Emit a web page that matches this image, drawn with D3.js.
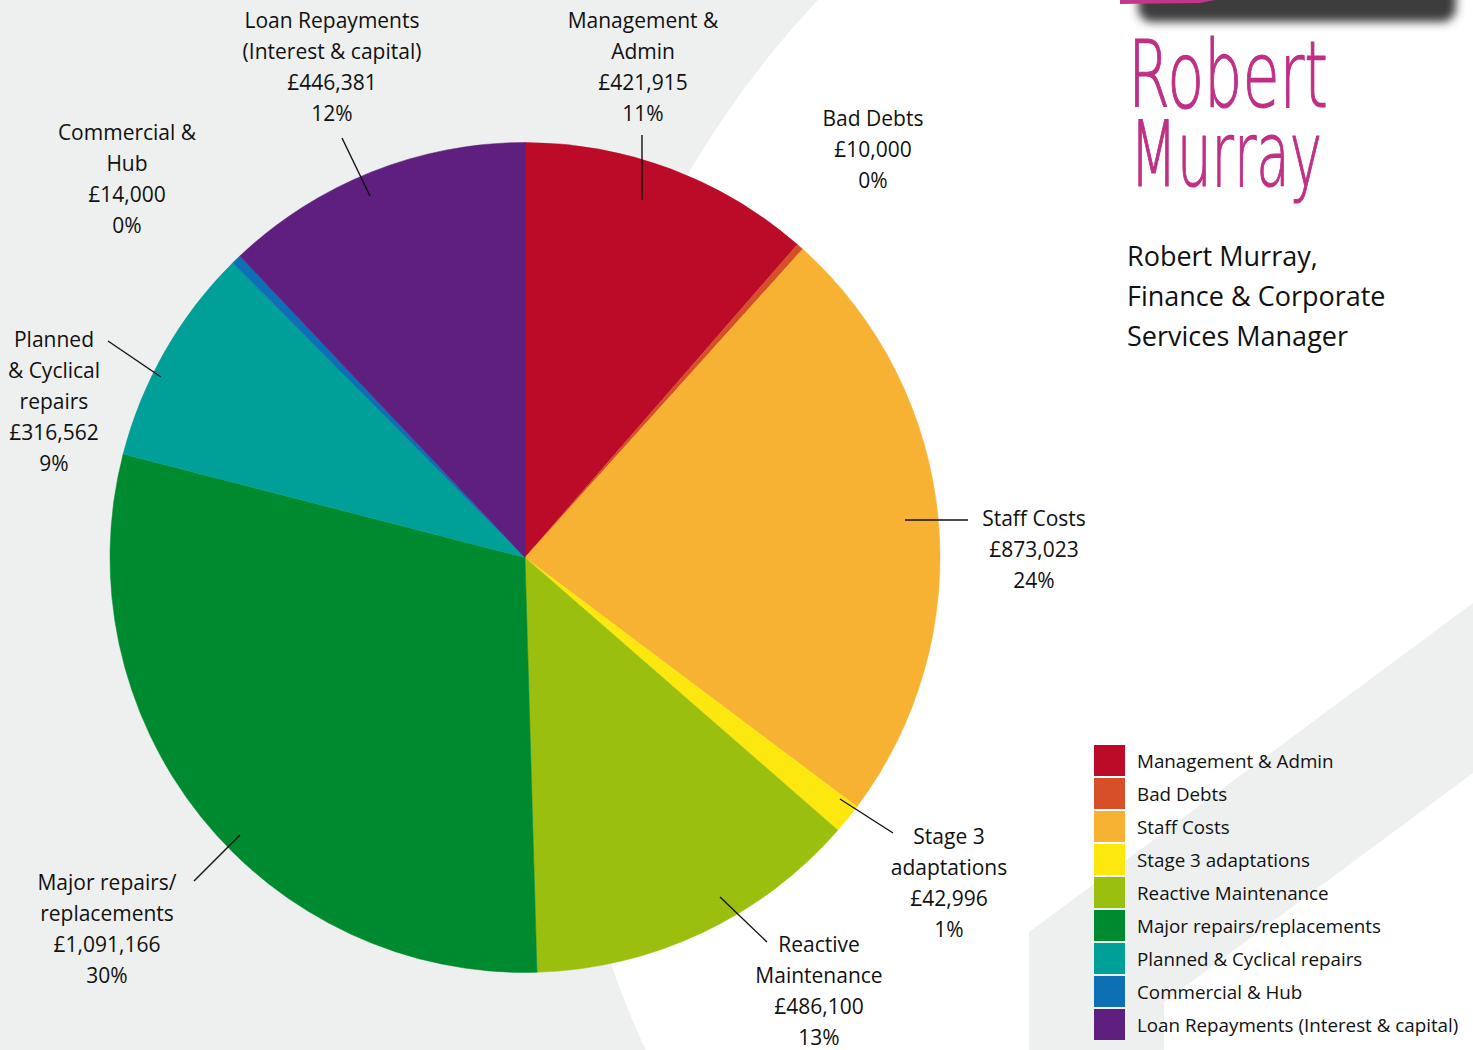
<!DOCTYPE html>
<html>
<head>
<meta charset="utf-8">
<script src="https://cdn.jsdelivr.net/npm/d3@7"></script>
<style>
  html, body { margin: 0; padding: 0; background: #eef0ef; }
  svg { display: block; font-family: "Open Sans", "Noto Sans", sans-serif; }
</style>
</head>
<body>
<div id="chart"></div>
<script>
// Data (clockwise from 12 o'clock)
const categories = ['Management & Admin', 'Bad Debts', 'Staff Costs', 'Stage 3 adaptations',
    'Reactive Maintenance', 'Major repairs/replacements', 'Planned & Cyclical repairs',
    'Commercial & Hub', 'Loan Repayments (Interest & capital)'];
const values = [421915, 10000, 873023, 42996, 486100, 1091166, 316562, 14000, 446381];
const percentLabels = ['11%', '0%', '24%', '1%', '13%', '30%', '9%', '0%', '12%'];
const colors = ['#bc0b29', '#d64f27', '#f7b234', '#fce80e', '#9bbf0e', '#008a30', '#00a099', '#0d6fb4', '#5f1f7e'];
const labelLines = [
    ['Management &', 'Admin'],
    ['Bad Debts'],
    ['Staff Costs'],
    ['Stage 3', 'adaptations'],
    ['Reactive', 'Maintenance'],
    ['Major repairs/', 'replacements'],
    ['Planned', '& Cyclical', 'repairs'],
    ['Commercial &', 'Hub'],
    ['Loan Repayments', '(Interest & capital)']
];

// Layout of the callouts (text centre + leader line ends)
const labelLayout = [
    { x: 643, y: 20, leader: [[642, 200], [642, 135]] },
    { x: 873, y: 118, leader: null },
    { x: 1034, y: 518, leader: [[905, 520], [968, 520]] },
    { x: 949, y: 836, leader: [[840, 799], [893, 833]] },
    { x: 819, y: 944, leader: [[720, 897], [767, 942]] },
    { x: 107, y: 882, leader: [[240, 835], [194, 881]] },
    { x: 54, y: 339, leader: [[161, 377], [108, 341]] },
    { x: 127, y: 132, leader: null },
    { x: 332, y: 20, leader: [[370, 196], [342, 138]] }
];

const width = 1473, height = 1050;
const cx = 525, cy = 557.5, radius = 415;
const fmt = d3.format(',');

const svg = d3.select('#chart').append('svg')
    .attr('width', width)
    .attr('height', height);

// Background: grey page, big white circle, grey diagonal band
svg.append('rect').attr('width', width).attr('height', height).attr('fill', '#eef0ef');
svg.append('circle').attr('cx', 1512).attr('cy', 653).attr('r', 953).attr('fill', '#ffffff');
svg.append('path')
    .attr('d', 'M1029,932 L1473,603 L1473,773 L1164,1002 L1164,1050 L1029,1050 Z')
    .attr('fill', '#eef0ef');

// Pen tip at the top
const defs = svg.append('defs');
defs.append('filter').attr('id', 'blur').attr('x', '-10%').attr('y', '-100%').attr('width', '120%').attr('height', '300%')
    .append('feGaussianBlur').attr('stdDeviation', 5);
svg.append('rect')
    .attr('x', 1138).attr('y', -30).attr('width', 318).attr('height', 52).attr('rx', 14)
    .attr('fill', '#3c3c3c').attr('filter', 'url(#blur)');
svg.append('path')
    .attr('d', 'M1120,0 L1215,0 L1200,3 L1120,4 Z')
    .attr('fill', '#c2378c');

// Pie
const pie = d3.pie().sort(null).value(d => d.value);
const arc = d3.arc().innerRadius(0).outerRadius(radius);
const data = categories.map((c, i) => ({ name: c, value: values[i], color: colors[i], i }));

const g = svg.append('g').attr('transform', `translate(${cx},${cy})`);
g.selectAll('path')
    .data(pie(data))
    .enter().append('path')
    .attr('d', arc)
    .attr('fill', d => d.data.color)
    .attr('stroke', d => d.data.color)
    .attr('stroke-width', 0.5);

// Leader lines
svg.selectAll('line.leader')
    .data(labelLayout.filter(d => d.leader))
    .enter().append('line')
    .attr('class', 'leader')
    .attr('x1', d => d.leader[0][0]).attr('y1', d => d.leader[0][1])
    .attr('x2', d => d.leader[1][0]).attr('y2', d => d.leader[1][1])
    .attr('stroke', '#111').attr('stroke-width', 1.4);

// Callout labels
const lineH = 31;
data.forEach((d, i) => {
    const lay = labelLayout[i];
    const lines = labelLines[i].concat(['£' + fmt(values[i]), percentLabels[i]]);
    const t = svg.append('text')
        .attr('text-anchor', 'middle')
        .attr('font-size', 21)
        .attr('fill', '#111');
    lines.forEach((ln, k) => {
        t.append('tspan')
            .attr('x', lay.x)
            .attr('y', lay.y + 8 + k * lineH)
            .text(ln);
    });
});

// Legend
const legend = svg.append('g').attr('transform', 'translate(1094,745)');
const item = legend.selectAll('g')
    .data(data)
    .enter().append('g')
    .attr('transform', (d, i) => `translate(0,${i * 33})`);
item.append('rect')
    .attr('width', 31).attr('height', 31)
    .attr('fill', d => d.color);
item.append('text')
    .attr('x', 43).attr('y', 23)
    .attr('font-size', 18.8)
    .attr('fill', '#111')
    .text(d => d.name);

// Signature (one text, two lines)
const sig = svg.append('text')
    .attr('fill', '#bf3085')
    .attr('stroke', '#bf3085').attr('stroke-width', 1.2)
    .attr('font-family', 'DejaVu Sans').attr('font-weight', 200);
sig.append('tspan')
    .attr('x', 1128).attr('y', 107)
    .attr('font-size', 92)
    .attr('textLength', 200).attr('lengthAdjust', 'spacingAndGlyphs')
    .text('Robert');
sig.append('tspan')
    .attr('x', 1130).attr('y', 186)
    .attr('font-size', 90)
    .attr('textLength', 192).attr('lengthAdjust', 'spacingAndGlyphs')
    .text('Murray');

// Name and role
const role = svg.append('text')
    .attr('font-size', 27)
    .attr('fill', '#111');
['Robert Murray,', 'Finance & Corporate', 'Services Manager'].forEach((ln, k) => {
    role.append('tspan').attr('x', 1127).attr('y', 266 + k * 40).text(ln);
});
</script>
</body>
</html>
